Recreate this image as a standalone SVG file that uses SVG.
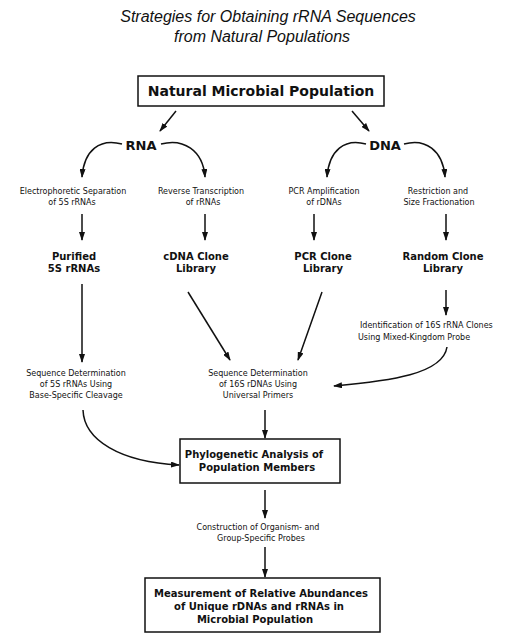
<svg xmlns="http://www.w3.org/2000/svg" width="510" height="635" viewBox="0 0 510 635">
<defs>
<style>
.title{font-family:"Liberation Sans",Arial,sans-serif;font-style:italic;font-size:16px;fill:#111;text-anchor:middle}
.big{font-family:"DejaVu Sans",sans-serif;font-weight:bold;font-size:14px;fill:#111;text-anchor:middle}
.bold{font-family:"DejaVu Sans",sans-serif;font-weight:bold;font-size:10px;fill:#111;text-anchor:middle}
.small{font-family:"DejaVu Sans",sans-serif;font-size:8px;fill:#111;text-anchor:middle}
.box{fill:#fff;stroke:#111;stroke-width:1.5}
.ln{fill:none;stroke:#111;stroke-width:1.5;marker-end:url(#ah)}
</style>
<marker id="ah" markerUnits="userSpaceOnUse" markerWidth="9" markerHeight="6" refX="8" refY="3" orient="auto">
<path d="M0,0 L9,3 L0,6 z" fill="#111"/>
</marker>
</defs>
<rect width="510" height="635" fill="#fff"/>
<g id="title">
<text class="title" x="268" y="22">Strategies for Obtaining rRNA Sequences</text>
<text class="title" x="262" y="42">from Natural Populations</text>
</g>
<g id="n-population">
<rect class="box" x="138" y="76" width="246" height="30"/>
<text class="big" x="261" y="96">Natural Microbial Population</text>
</g>
<g id="n-rna"><text class="big" x="141" y="150" style="font-size:13px">RNA</text></g>
<g id="n-dna"><text class="big" x="385" y="150" style="font-size:13px">DNA</text></g>
<g id="n-electro">
<text class="small" x="73" y="194">Electrophoretic Separation</text>
<text class="small" x="72" y="205">of 5S rRNAs</text>
</g>
<g id="n-reverse">
<text class="small" x="201" y="194">Reverse Transcription</text>
<text class="small" x="203" y="205">of rRNAs</text>
</g>
<g id="n-pcramp">
<text class="small" x="324" y="194">PCR Amplification</text>
<text class="small" x="324" y="205">of rDNAs</text>
</g>
<g id="n-restriction">
<text class="small" x="438" y="194">Restriction and</text>
<text class="small" x="439" y="205">Size Fractionation</text>
</g>
<g id="n-purified">
<text class="bold" x="74" y="260">Purified</text>
<text class="bold" x="74" y="272">5S rRNAs</text>
</g>
<g id="n-cdna">
<text class="bold" x="196" y="260">cDNA Clone</text>
<text class="bold" x="196" y="272">Library</text>
</g>
<g id="n-pcrclone">
<text class="bold" x="323" y="260">PCR Clone</text>
<text class="bold" x="323" y="272">Library</text>
</g>
<g id="n-random">
<text class="bold" x="443" y="260">Random Clone</text>
<text class="bold" x="443" y="272">Library</text>
</g>
<g id="n-identification">
<text class="small" x="360" y="328" style="text-anchor:start">Identification of 16S rRNA Clones</text>
<text class="small" x="358" y="340" style="text-anchor:start">Using Mixed-Kingdom Probe</text>
</g>
<g id="n-seq5s">
<text class="small" x="76" y="376">Sequence Determination</text>
<text class="small" x="76" y="387">of 5S rRNAs Using</text>
<text class="small" x="76" y="398">Base-Specific Cleavage</text>
</g>
<g id="n-seq16s">
<text class="small" x="258" y="376">Sequence Determination</text>
<text class="small" x="258" y="387">of 16S rDNAs Using</text>
<text class="small" x="258" y="398">Universal Primers</text>
</g>
<g id="n-phylo">
<rect class="box" x="180" y="439" width="160" height="44"/>
<text class="bold" x="254" y="458">Phylogenetic Analysis of</text>
<text class="bold" x="257" y="471">Population Members</text>
</g>
<g id="n-construction">
<text class="small" x="258" y="530">Construction of Organism- and</text>
<text class="small" x="261" y="541">Group-Specific Probes</text>
</g>
<g id="n-measurement">
<rect class="box" x="145" y="578" width="235" height="54"/>
<text class="bold" x="261" y="597">Measurement of Relative Abundances</text>
<text class="bold" x="259" y="610">of Unique rDNAs and rRNAs in</text>
<text class="bold" x="255" y="623">Microbial Population</text>
</g>
<g id="connectors">
<path class="ln" d="M176,111 L160,131"/>
<path class="ln" d="M352,111 L369,131"/>
<path class="ln" d="M122,144 C100,138 84,150 82,177"/>
<path class="ln" d="M161,144 C183,138 203,150 205,177"/>
<path class="ln" d="M366,144 C345,138 329,150 327,177"/>
<path class="ln" d="M404,144 C425,138 443,150 445,177"/>
<path class="ln" d="M82,214 L82,240"/>
<path class="ln" d="M205,214 L205,240"/>
<path class="ln" d="M314,214 L314,240"/>
<path class="ln" d="M446,214 L446,240"/>
<path class="ln" d="M82,284 L82,362"/>
<path class="ln" d="M188,292 L230,360"/>
<path class="ln" d="M322,292 L298,360"/>
<path class="ln" d="M446,290 L446,315"/>
<path class="ln" d="M447,347 C443,374 390,381 334,386"/>
<path class="ln" d="M265,410 L265,438"/>
<path class="ln" d="M83,410 C84,440 120,462 179,465"/>
<path class="ln" d="M265,490 L265,518"/>
<path class="ln" d="M265,547 L265,577"/>
</g>
</svg>
